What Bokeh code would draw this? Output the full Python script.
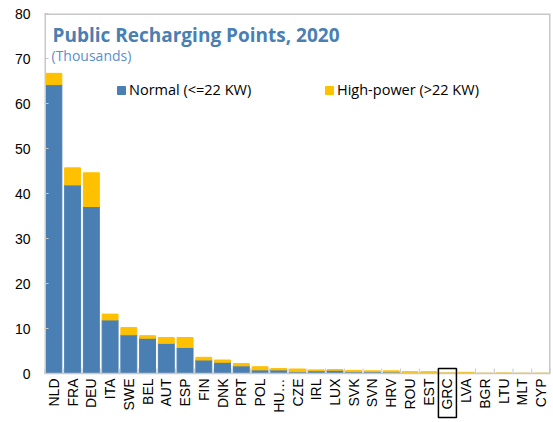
import numpy as np
from math import pi
from bokeh.plotting import figure
from bokeh.models import (ColumnDataSource, FixedTicker, Label, Legend, LegendItem, Range1d)
from bokeh.core.properties import value
from bokeh.embed import file_html
from bokeh.resources import INLINE

categories = ["NLD", "FRA", "DEU", "ITA", "SWE", "BEL", "AUT", "ESP", "FIN", "DNK",
              "PRT", "POL", "HU…", "CZE", "IRL", "LUX", "SVK", "SVN", "HRV", "ROU",
              "EST", "GRC", "LVA", "BGR", "LTU", "MLT", "CYP"]
normal = [64.2, 41.9, 37.1, 11.9, 8.6, 7.85, 6.7, 5.8, 3.0, 2.5,
          1.7, 0.8, 0.8, 0.4, 0.6, 0.75, 0.4, 0.4, 0.35, 0.1,
          0.05, 0.05, 0.02, 0.02, 0.03, 0.02, 0.02]
high_power = [2.5, 3.8, 7.5, 1.3, 1.6, 0.55, 1.3, 2.2, 0.6, 0.5,
              0.5, 0.7, 0.3, 0.6, 0.2, 0.05, 0.3, 0.2, 0.25, 0.3,
              0.35, 0.05, 0.25, 0.03, 0.07, 0.03, 0.03]
y_ticks = [0, 10, 20, 30, 40, 50, 60, 70, 80]
highlight = "GRC"

BLUE = "#4a7fb3"
YELLOW = "#ffc000"
GREY = "#c8c8c8"
TICK_FONT = value("Liberation Sans")

# layout constants (pixels)
W, H = 553, 422
LEFT, TOP, RIGHT = 44, 13, 3
PLOT_H = 360            # height of the 0..80 area
YMAX = 80
PX = PLOT_H / YMAX      # pixels per unit
BELOW = H - TOP - PLOT_H  # label band below zero

n = len(categories)
x = np.arange(n)
src = ColumnDataSource(dict(x=x, normal=normal, high=high_power,
                            total=np.array(normal) + np.array(high_power)))

p = figure(width=W, height=H, output_backend="svg", toolbar_location=None,
           x_range=Range1d(-0.5, n - 0.5), y_range=Range1d(-BELOW / PX, YMAX),
           min_border_left=LEFT, min_border_right=RIGHT, min_border_top=TOP, min_border_bottom=0)
p.outline_line_color = None
p.grid.visible = False
p.xaxis.visible = False
p.background_fill_color = "white"
p.border_fill_color = "white"

r1 = p.vbar(x="x", bottom=0, top="normal", width=0.85, color=BLUE, source=src)
r2 = p.vbar(x="x", bottom="normal", top="total", width=0.85, color=YELLOW, source=src)

# plot-area frame (left, top, right) and bottom axis line
xl, xr = -0.5, n - 0.5
p.line([xl, xl, xr, xr], [0, YMAX, YMAX, 0], line_color=GREY, line_width=3)
p.line([xl, xr], [0, 0], line_color=GREY, line_width=1.5)

# category boundary ticks (inward)
bounds = np.arange(n + 1) - 0.5
p.segment(x0=bounds, y0=0, x1=bounds, y1=5 / PX, line_color=GREY, line_width=1)

# category labels
lab_src = ColumnDataSource(dict(x=x, label=["" if c == highlight else c for c in categories]))
p.text(x="x", y=0, text="label", source=lab_src, angle=pi / 2, y_offset=5,
       text_align="right", text_baseline="middle", text_font=TICK_FONT,
       text_font_size="14px", text_color="black")

# highlighted label with box
gi = categories.index(highlight)
p.text(x=[gi], y=[0], text=[highlight], angle=pi / 2, y_offset=5,
       text_align="right", text_baseline="middle", text_font=TICK_FONT,
       text_font_size="14px", text_color="black")
box_top, box_h = -5, 49   # px relative to zero line (negative = above)
p.rect(x=[gi], y=[-(box_top + box_h / 2) / PX], width=18, height=box_h,
       width_units="screen", height_units="screen",
       fill_color=None, line_color="black", line_width=1.5)

# y axis
ya = p.yaxis[0]
ya.ticker = FixedTicker(ticks=y_ticks)
ya.major_tick_in = 4
ya.major_tick_out = 0
ya.minor_tick_line_color = None
ya.major_tick_line_color = GREY
ya.axis_line_color = None
ya.major_label_text_font = "Liberation Sans"
ya.major_label_text_font_size = "14px"
ya.major_label_text_color = "black"
ya.major_label_standoff = 14

FH = H - TOP  # frame height
# titles
p.add_layout(Label(x=8, y=FH - 21, x_units="screen", y_units="screen",
                   text="Public Recharging Points, 2020", text_font="Open Sans",
                   text_font_style="bold", text_font_size="19px", text_color="#4a7fb3",
                   text_baseline="alphabetic"))
p.add_layout(Label(x=7, y=FH - 42, x_units="screen", y_units="screen",
                   text="(Thousands)", text_font="Open Sans", text_baseline="alphabetic",
                   text_font_size="14px", text_color="#5b8fcb"))

# legends
for r, lab, lx in [(r1, "Normal (<=22 KW)", 72), (r2, "High-power (>22 KW)", 280)]:
    lg = Legend(items=[LegendItem(label=lab, renderers=[r])], location=(lx, BELOW + 274),
                orientation="horizontal", glyph_width=10, glyph_height=10,
                label_standoff=3, padding=0, margin=0, border_line_color=None,
                background_fill_alpha=0, label_text_font="Open Sans",
                label_text_font_size="14.5px", label_text_color="black")
    p.add_layout(lg, "center")

open("out.html", "w").write(file_html(p, INLINE))
